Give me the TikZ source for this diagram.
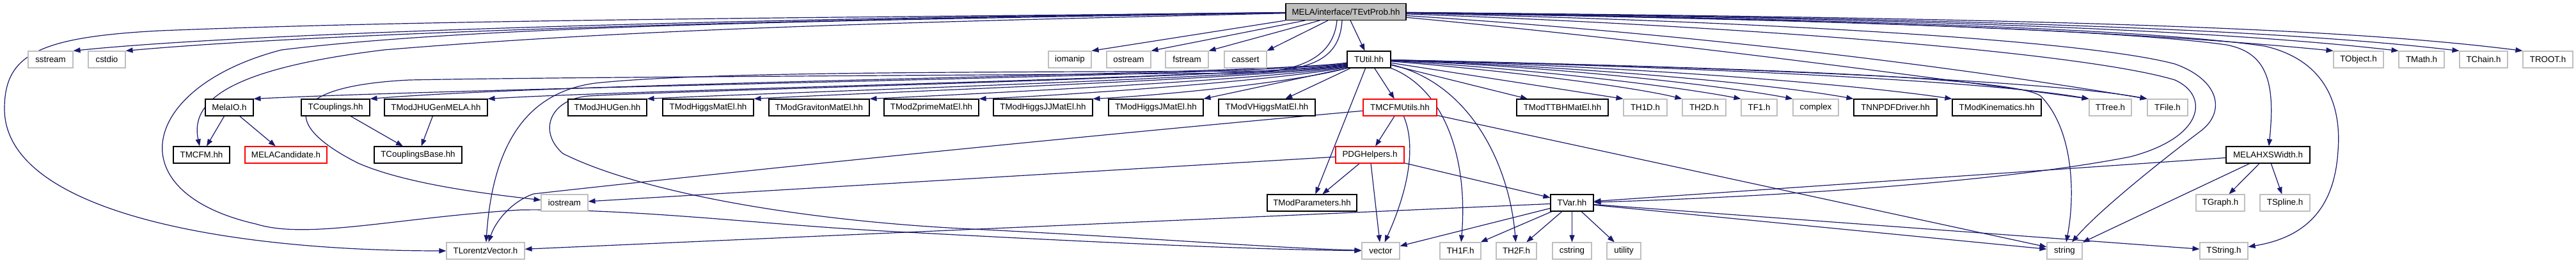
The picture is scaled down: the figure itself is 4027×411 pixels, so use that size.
\documentclass[tikz,border=0pt]{standalone}
\usepackage{fontspec}
\setmainfont{Liberation Sans}
\usetikzlibrary{arrows.meta}
\definecolor{edgeblue}{HTML}{191970}
\definecolor{extgray}{HTML}{BFBFBF}
\definecolor{rootgray}{HTML}{BFBFBF}
\definecolor{truncred}{HTML}{FF0000}
\pgfdeclarelayer{bg}
\pgfsetlayers{bg,main}
\tikzset{
  box/.style={draw=black, line width=1.1pt, fill=white, minimum height=26pt, inner sep=0pt,
    font=\fontsize{13.33pt}{16pt}\selectfont},
  ext/.style={box, draw=extgray},
  trunc/.style={box, draw=truncred},
  rootbox/.style={box, fill=rootgray},
  e/.style={draw=edgeblue, line width=1.2pt, -{Triangle[length=11pt,width=8pt]}}
}
\begin{document}
\begin{tikzpicture}[x=1pt,y=-1pt]
\useasboundingbox (0,0) rectangle (4027,411);
% row 1
\node[rootbox, minimum width=188pt] (root) at (2104,18.5) {MELA/interface/TEvtProb.hh};
% row 2
\node[ext, minimum width=70pt] (sstream) at (79,93) {sstream};
\node[ext, minimum width=58pt] (cstdio) at (167,93) {cstdio};
\node[ext, minimum width=67pt] (iomanip) at (1672.5,93) {iomanip};
\node[ext, minimum width=69pt] (ostream) at (1764.5,93) {ostream};
\node[ext, minimum width=67pt] (fstream) at (1855.5,93) {fstream};
\node[ext, minimum width=66pt] (cassert) at (1947,93) {cassert};
\node[box, minimum width=68pt] (TUtil) at (2140,93) {TUtil.hh};
\node[ext, minimum width=78pt] (TObject) at (3687,93) {TObject.h};
\node[ext, minimum width=71pt] (TMath) at (3785.5,93) {TMath.h};
\node[ext, minimum width=75pt] (TChain) at (3882.5,93) {TChain.h};
\node[ext, minimum width=78pt] (TROOT) at (3983,93) {TROOT.h};
% row 3
\node[box, minimum width=75pt] (MelaIO) at (358.5,168) {MelaIO.h};
\node[box, minimum width=107pt] (TCouplings) at (524.5,168) {TCouplings.hh};
\node[box, minimum width=161pt] (JHUGenMELA) at (681.5,168) {TModJHUGenMELA.hh};
\node[box, minimum width=123pt] (JHUGen) at (949.5,168) {TModJHUGen.hh};
\node[box, minimum width=142pt] (HiggsMatEl) at (1107,168) {TModHiggsMatEl.hh};
\node[box, minimum width=157pt] (Graviton) at (1280.5,168) {TModGravitonMatEl.hh};
\node[box, minimum width=148pt] (Zprime) at (1456,168) {TModZprimeMatEl.hh};
\node[box, minimum width=155pt] (HiggsJJ) at (1630.5,168) {TModHiggsJJMatEl.hh};
\node[box, minimum width=148pt] (HiggsJ) at (1807,168) {TModHiggsJMatEl.hh};
\node[box, minimum width=151pt] (VHiggs) at (1980.5,168) {TModVHiggsMatEl.hh};
\node[trunc, minimum width=115pt] (TMCFMUtils) at (2188.5,168) {TMCFMUtils.hh};
\node[box, minimum width=143pt] (TTBH) at (2442.5,168) {TModTTBHMatEl.hh};
\node[ext, minimum width=68pt] (TH1D) at (2572,168) {TH1D.h};
\node[ext, minimum width=68pt] (TH2D) at (2664,168) {TH2D.h};
\node[ext, minimum width=56pt] (TF1) at (2750,168) {TF1.h};
\node[ext, minimum width=71pt] (complex) at (2838.5,168) {complex};
\node[box, minimum width=130pt] (NNPDF) at (2963,168) {TNNPDFDriver.hh};
\node[box, minimum width=139pt] (Kin) at (3121.5,168) {TModKinematics.hh};
\node[ext, minimum width=66pt] (TTree) at (3299,168) {TTree.h};
\node[ext, minimum width=63pt] (TFile) at (3388.5,168) {TFile.h};
% row 4
\node[box, minimum width=88pt] (TMCFM) at (315,242) {TMCFM.hh};
\node[trunc, minimum width=128pt] (MELACand) at (447,242) {MELACandidate.h};
\node[box, minimum width=137pt] (TCB) at (653.5,242) {TCouplingsBase.hh};
\node[trunc, minimum width=107pt] (PDG) at (2141.5,242) {PDGHelpers.h};
\node[box, minimum width=131pt] (MELAHX) at (3545.5,242) {MELAHXSWidth.h};
% row 5
\node[ext, minimum width=73pt] (iostream) at (882.5,317) {iostream};
\node[box, minimum width=140pt] (TModPar) at (2051,317) {TModParameters.hh};
\node[box, minimum width=67pt] (TVar) at (2457.5,317) {TVar.hh};
\node[ext, minimum width=76pt] (TGraph) at (3471,317) {TGraph.h};
\node[ext, minimum width=78pt] (TSpline) at (3572,317) {TSpline.h};
% row 6
\node[ext, minimum width=122pt] (TLV) at (759,392) {TLorentzVector.h};
\node[ext, minimum width=59pt] (vector) at (2158.5,392) {vector};
\node[ext, minimum width=64pt] (TH1F) at (2283,392) {TH1F.h};
\node[ext, minimum width=63pt] (TH2F) at (2370.5,392) {TH2F.h};
\node[ext, minimum width=61pt] (cstring) at (2457.5,392) {cstring};
\node[ext, minimum width=53pt] (utility) at (2538.5,392) {utility};
\node[ext, minimum width=55pt] (string) at (3227.5,392) {string};
\node[ext, minimum width=75pt] (TString) at (3476.5,392) {TString.h};

\begin{pgfonlayer}{bg}
\fill[white] (0,0) rectangle (4027,411);
% root, left side
\draw[e] (root) .. controls (1200,28) and (400,50) .. (sstream.north east);
\draw[e] (root) .. controls (1200,30) and (500,52) .. (cstdio.north east);
\draw[e] (root) .. controls (1300,28) and (700,30) .. (250,48) .. controls (60,58) and (7,85) .. (7,170) .. controls (7,330) and (350,392) .. (TLV);
\draw[e] (root) .. controls (1300,32) and (750,40) .. (440,78) .. controls (220,135) and (180,300) .. (400,350) .. controls (480,375) and (620,340) .. (814,328) .. controls (1000,326) and (1200,352) .. (1400,362) .. controls (1700,378) and (1950,390) .. (vector);
\draw[e] (root) .. controls (1400,35) and (1000,45) .. (600,78) .. controls (380,105) and (295,150) .. (TMCFM);
% root, bottom
\draw[e] ([xshift=-95pt]root.south) -- (iomanip.north east);
\draw[e] ([xshift=-64pt]root.south) -- (ostream.north east);
\draw[e] ([xshift=-41pt]root.south) -- (fstream.north east);
\draw[e] ([xshift=-28pt]root.south) -- (cassert.north east);
\draw[e] ([xshift=7pt]root.south) -- (TUtil);
\draw[e] ([xshift=-14pt]root.south) .. controls (2085,85) and (2040,112) .. (1950,114) .. controls (1500,118) and (900,120) .. (640,125) .. controls (440,135) and (440,195) .. (560,255) .. controls (640,290) and (780,305) .. (iostream);
\draw[e] ([xshift=-6pt]root.south) .. controls (2095,85) and (2060,110) .. (1970,111) .. controls (1500,113) and (1100,112) .. (930,130) .. controls (820,145) and (770,230) .. (TLV);
% root, right side
\draw[e] (root) .. controls (2900,30) and (3350,50) .. (TObject.north west);
\draw[e] (root) .. controls (2950,28) and (3450,45) .. (TMath.north west);
\draw[e] (root) .. controls (3050,28) and (3550,45) .. (TChain.north west);
\draw[e] (root) .. controls (3150,28) and (3650,42) .. (TROOT.north west);
\draw[e] (root) .. controls (2550,60) and (2900,105) .. (TTree.north west);
\draw[e] (root) .. controls (2600,50) and (3000,95) .. (TFile.north west);
\draw[e] (root) .. controls (2800,30) and (3300,45) .. (3480,70) .. controls (3545,82) and (3557,130) .. (MELAHX);
\draw[e] (root) .. controls (2900,30) and (3350,45) .. (3540,72) .. controls (3640,95) and (3660,170) .. (3655,235) .. controls (3650,320) and (3610,370) .. (TString);
\draw[e] (root) .. controls (2700,40) and (3250,80) .. (3400,125) .. controls (3455,150) and (3445,215) .. (3330,245) .. controls (3100,290) and (2700,310) .. (TVar);
\draw[e] (root) .. controls (2700,32) and (3250,60) .. (3400,100) .. controls (3470,125) and (3480,175) .. (3440,205) .. controls (3380,250) and (3280,330) .. (string);
% TUtil
\draw[e] (TUtil) -- (TModPar);
\draw[e] (TUtil) -- (TMCFMUtils);
\draw[e] (TUtil) .. controls (2260,140) and (2295,250) .. (TH1F);
\draw[e] (TUtil) .. controls (2300,130) and (2360,260) .. (TH2F);
\draw[e] (TUtil) -- (TTBH);
\draw[e] (TUtil) -- (TH1D.north west);
\draw[e] (TUtil) .. controls (2350,110) and (2550,135) .. (TH2D.north west);
\draw[e] (TUtil) .. controls (2400,108) and (2620,135) .. (TF1.north west);
\draw[e] (TUtil) .. controls (2450,105) and (2700,135) .. (complex.north west);
\draw[e] (TUtil) .. controls (2500,105) and (2780,133) .. (NNPDF.north west);
\draw[e] (TUtil) .. controls (2550,103) and (2900,132) .. (Kin.north west);
\draw[e] (TUtil) .. controls (2600,103) and (3100,125) .. (TTree.north west);
\draw[e] (TUtil) .. controls (2650,103) and (3200,125) .. (TFile.north west);
\draw[e] (TUtil) .. controls (2700,105) and (3150,120) .. (3190,150) .. controls (3240,200) and (3245,300) .. (string);
\draw[e] ([yshift=-6pt]TUtil.west) .. controls (1990,118) and (800,135) .. (MelaIO.north east);
\draw[e] ([yshift=-5pt]TUtil.west) .. controls (1990,116) and (900,128) .. (TCouplings.north east);
\draw[e] ([yshift=-8pt]TUtil.west) .. controls (1990,120) and (1000,140) .. (JHUGenMELA.north east);
\draw[e] ([yshift=-9pt]TUtil.west) .. controls (1990,121) and (1200,145) .. (JHUGen.north east);
\draw[e] ([yshift=-10pt]TUtil.west) .. controls (1990,122) and (1350,145) .. (HiggsMatEl.north east);
\draw[e] ([yshift=-11pt]TUtil.west) .. controls (1995,124) and (1500,148) .. (Graviton.north east);
\draw[e] ([yshift=-12pt]TUtil.west) .. controls (2000,126) and (1650,150) .. (Zprime.north east);
\draw[e] (TUtil.south west) .. controls (2020,130) and (1800,150) .. (HiggsJJ.north east);
\draw[e] (TUtil.south west) -- (HiggsJ.north east);
\draw[e] (TUtil) -- (VHiggs);
\draw[e] ([yshift=-7pt]TUtil.west) .. controls (1990,120) and (1100,140) .. (920,150) .. controls (860,155) and (840,205) .. (880,240) .. controls (1000,300) and (1250,345) .. (1520,358) .. controls (1800,372) and (2000,388) .. (vector);
% row 3 / 4 internal
\draw[e] (MelaIO) -- (TMCFM);
\draw[e] (MelaIO) -- (MELACand);
\draw[e] (TCouplings) -- (TCB);
\draw[e] (JHUGenMELA) -- (TCB);
\draw[e] (TMCFMUtils) -- (PDG);
\draw[e] (TMCFMUtils) .. controls (2215,230) and (2200,300) .. (vector);
\draw[e] (TMCFMUtils) -- (string);
\draw[e] (TMCFMUtils) .. controls (1500,230) and (950,290) .. (834,303) .. controls (800,315) and (775,345) .. (TLV);
\draw[e] (PDG) -- (TModPar);
\draw[e] (PDG) -- (vector);
\draw[e] (PDG) -- (TVar);
\draw[e] (PDG) -- (iostream);
\draw[e] (MELAHX) -- (TVar);
\draw[e] (MELAHX) -- (string);
\draw[e] (MELAHX) -- (TGraph);
\draw[e] (MELAHX) -- (TSpline);
\draw[e] (TVar) -- (vector);
\draw[e] (TVar) -- (TH1F);
\draw[e] (TVar) -- (TH2F);
\draw[e] (TVar) -- (cstring);
\draw[e] (TVar) -- (utility);
\draw[e] (TVar) -- (TLV);
\draw[e] (TVar) -- (string);
\draw[e] (TVar) -- (TString);
\end{pgfonlayer}
\end{tikzpicture}
\end{document}
